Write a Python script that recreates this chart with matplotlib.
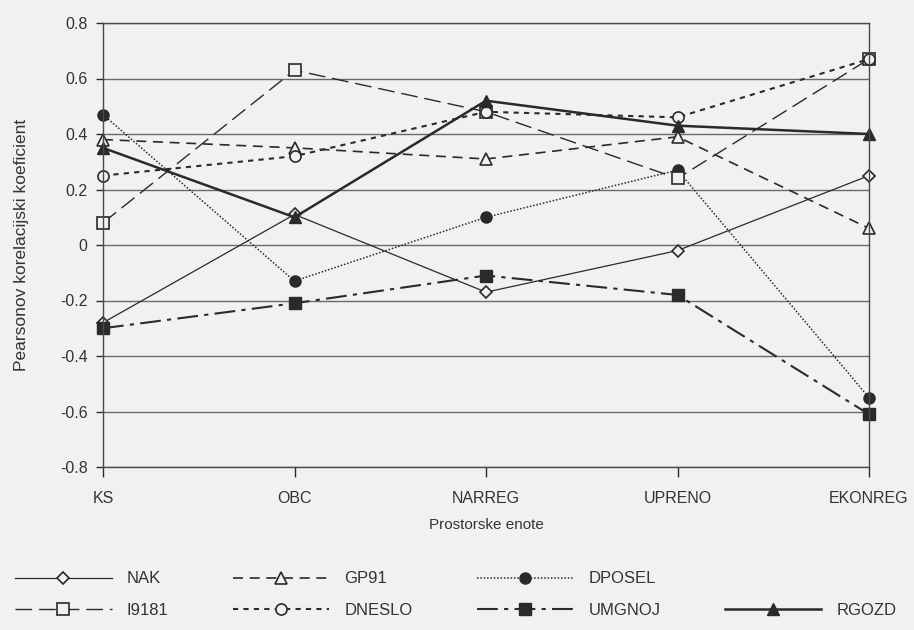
import matplotlib.pyplot as plt
from matplotlib.lines import Line2D

plt.rcParams['font.family'] = ['Liberation Sans', 'DejaVu Sans']

categories = ['KS', 'OBC', 'NARREG', 'UPRENO', 'EKONREG']

nak = [-0.28, 0.11, -0.17, -0.02, 0.25]
gp91 = [0.38, 0.35, 0.31, 0.39, 0.06]
dposel = [0.47, -0.13, 0.10, 0.27, -0.55]
i9181 = [0.08, 0.63, 0.48, 0.24, 0.67]
dneslo = [0.25, 0.32, 0.48, 0.46, 0.67]
umgnoj = [-0.30, -0.21, -0.11, -0.18, -0.61]
rgozd = [0.35, 0.10, 0.52, 0.43, 0.40]

ink = '#2a2a2a'
bg = '#f1f1f1'

fig = plt.figure(figsize=(9.14, 6.3), dpi=100, facecolor=bg)
ax = fig.add_axes([103/914, 1 - 467/630, (869-103)/914, (467-23)/630])
ax.set_facecolor(bg)

x = range(len(categories))
ms = 8
lines = [
    ax.plot(x, nak, color=ink, lw=0.9, ls='-', marker='D', ms=6.5, mfc=bg, mec=ink, mew=1.2, label='NAK'),
    ax.plot(x, gp91, color=ink, lw=1.2, ls=(0, (6, 4)), marker='^', ms=ms, mfc=bg, mec=ink, mew=1.2, label='GP91'),
    ax.plot(x, dposel, color=ink, lw=1.1, ls=(0, (1, 1.2)), marker='o', ms=ms, mfc=ink, mec=ink, label='DPOSEL'),
    ax.plot(x, i9181, color=ink, lw=1.0, ls=(0, (12, 5)), marker='s', ms=ms, mfc=bg, mec=ink, mew=1.2, label='I9181'),
    ax.plot(x, dneslo, color=ink, lw=1.5, ls=(0, (2.5, 2.5)), marker='o', ms=ms, mfc=bg, mec=ink, mew=1.2, label='DNESLO'),
    ax.plot(x, umgnoj, color=ink, lw=1.5, ls=(0, (10, 3, 2, 3)), marker='s', ms=ms, mfc=ink, mec=ink, label='UMGNOJ'),
    ax.plot(x, rgozd, color=ink, lw=1.8, ls='-', marker='^', ms=ms + 1, mfc=ink, mec=ink, label='RGOZD'),
]
for ln in lines:
    ln[0].set_clip_on(False)

ax.set_xlim(0, len(categories) - 1)
ax.set_ylim(-0.8, 0.8)
ax.set_yticks([-0.8, -0.6, -0.4, -0.2, 0, 0.2, 0.4, 0.6, 0.8])
ax.set_yticklabels(['-0.8', '-0.6', '-0.4', '-0.2', '0', '0.2', '0.4', '0.6', '0.8'])
ax.set_xticks(list(x))
ax.set_xticklabels(categories)
ax.yaxis.grid(True, color='#6a6a6a', lw=1.0)
ax.set_axisbelow(True)
ax.tick_params(axis='both', colors=ink, labelcolor='#333333', labelsize=11.5, width=1.0)
ax.tick_params(axis='x', length=7, pad=10)
ax.tick_params(axis='y', length=5, pad=6)
for s in ax.spines.values():
    s.set_color('#4a4a4a')
    s.set_linewidth(1.0)

ax.set_xlabel('Prostorske enote', fontsize=11, color='#333333', labelpad=9)
ax.set_ylabel('Pearsonov korelacijski koeficient', fontsize=12.5, color='#333333', labelpad=22)

handles, labels = ax.get_legend_handles_labels()
blank = Line2D([], [], color='none')
order = [0, 3, 1, 4, 2, 5]
leg_h = [handles[i] for i in order] + [blank, handles[6]]
leg_l = [labels[i] for i in order] + ['', labels[6]]
fig.legend(leg_h, leg_l, loc='lower left', bbox_to_anchor=(0.0, -0.005), ncol=4,
           frameon=False, fontsize=12, handlelength=5.8, handletextpad=0.9,
           columnspacing=3.85, labelspacing=1.0, labelcolor='#333333')

fig.savefig('out.png', dpi=100, facecolor=bg)
